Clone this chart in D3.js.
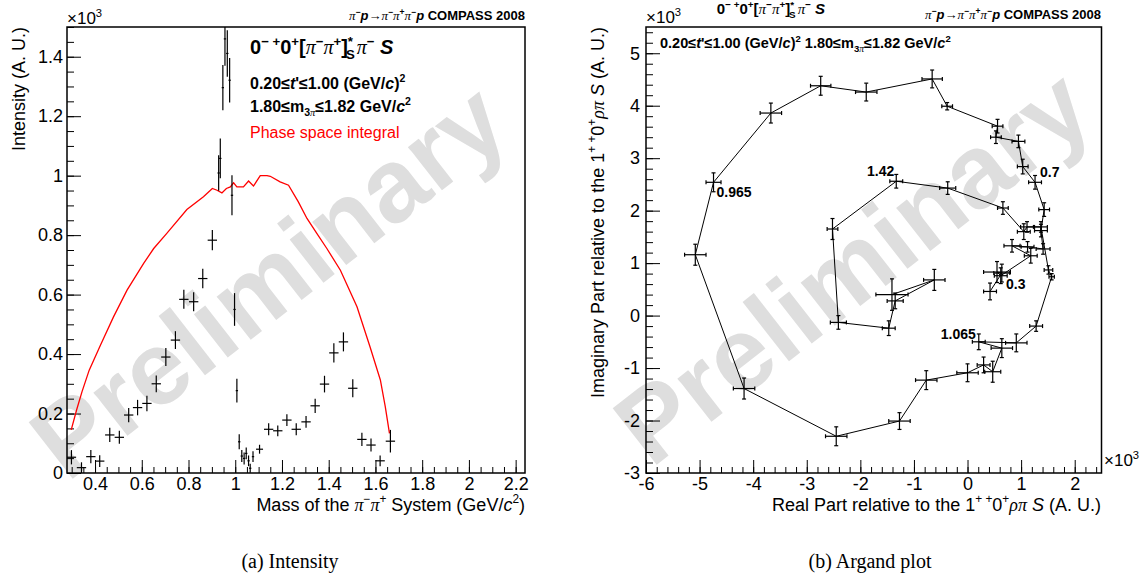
<!DOCTYPE html>
<html>
<head>
<meta charset="utf-8">
<script src="https://cdn.jsdelivr.net/npm/d3@7"></script>
<style>
  body { margin: 0; background: #fff; }
</style>
</head>
<body>
<div id="chart"></div>
<script>
// ---- data: intensity panel (mass in GeV/c^2, intensity in units of 10^3) ----
var massX = [0.299, 0.342, 0.382, 0.42, 0.463, 0.504, 0.544, 0.582, 0.622, 0.662, 0.703, 0.744, 0.78, 0.822, 0.861, 0.902,
  0.929, 0.936, 0.947, 0.956, 0.966, 0.976, 0.986, 0.997, 1.007, 1.017, 1.028, 1.038, 1.047, 1.057, 1.064, 1.076, 1.104,
  1.143, 1.182, 1.221, 1.261, 1.303, 1.342, 1.382, 1.422, 1.463, 1.503, 1.542, 1.581, 1.62, 1.664];
var massHalfWidth = [0.02, 0.02, 0.02, 0.02, 0.02, 0.02, 0.02, 0.02, 0.02, 0.02, 0.02, 0.02, 0.02, 0.02, 0.02, 0.02,
  0.005, 0.005, 0.005, 0.005, 0.005, 0.005, 0.005, 0.005, 0.005, 0.005, 0.005, 0.005, 0.005, 0.005, 0.005, 0.005, 0.015,
  0.02, 0.02, 0.02, 0.02, 0.02, 0.02, 0.02, 0.02, 0.02, 0.02, 0.02, 0.02, 0.02, 0.02];
var intensity = [0.053, 0.018, 0.055, 0.04, 0.128, 0.12, 0.195, 0.22, 0.234, 0.30, 0.39, 0.447, 0.584, 0.576, 0.654, 0.783,
  1.009, 1.058, 1.296, 1.46, 1.411, 1.321, 0.934, 0.55, 0.277, 0.105, 0.057, 0.049, 0.066, 0.041, 0.016, 0.055, 0.08,
  0.147, 0.142, 0.178, 0.147, 0.172, 0.226, 0.299, 0.404, 0.441, 0.285, 0.113, 0.094, 0.041, 0.107];
var intensityErr = [0.024, 0.018, 0.022, 0.02, 0.024, 0.022, 0.024, 0.026, 0.026, 0.028, 0.03, 0.03, 0.032, 0.032, 0.033, 0.034,
  0.06, 0.067, 0.076, 0.09, 0.078, 0.075, 0.067, 0.055, 0.04, 0.025, 0.02, 0.02, 0.02, 0.018, 0.015, 0.018, 0.015,
  0.02, 0.018, 0.02, 0.02, 0.02, 0.024, 0.028, 0.032, 0.032, 0.03, 0.022, 0.022, 0.018, 0.038];

var psMass = [0.298, 0.321, 0.344, 0.375, 0.423, 0.479, 0.537, 0.608, 0.651, 0.707, 0.793, 0.864, 0.902, 0.922, 0.943, 0.962,
  0.979, 0.993, 1.007, 1.035, 1.057, 1.078, 1.107, 1.136, 1.15, 1.192, 1.228, 1.27, 1.307, 1.349, 1.392, 1.45, 1.521,
  1.577, 1.621, 1.642, 1.66];
var psIntensity = [0.145, 0.212, 0.273, 0.346, 0.43, 0.525, 0.615, 0.705, 0.755, 0.806, 0.886, 0.929, 0.957, 0.951, 0.942, 0.957,
  0.962, 0.976, 0.962, 0.962, 0.982, 0.965, 1.0, 1.0, 0.998, 0.979, 0.968, 0.912, 0.856, 0.806, 0.755, 0.682, 0.559,
  0.424, 0.313, 0.223, 0.133];

var massTicks = [0.4, 0.6, 0.8, 1, 1.2, 1.4, 1.6, 1.8, 2, 2.2];
var intensityTicks = [0, 0.2, 0.4, 0.6, 0.8, 1, 1.2, 1.4];

// ---- data: Argand plot (units of 10^3) ----
var argandRe = [0.42, 0.64, 0.55, 0.62, 1.18, 0.83, 1.12, 1.41, 1.37, 1.43, 1.26, 1.03, 0.95, 0.53, 0.56, -0.38,
  -0.66, -1.89, -2.74, -3.67, -4.74, -5.08, -4.17, -2.45, -1.27, -0.77, 0.00, 0.30, 0.47, 0.64, 0.21, 0.91,
  1.28, 1.57, 1.51, 1.37, 1.11, 1.05, 0.66, -0.37, -1.33, -2.52, -2.41, -1.47, -1.35, -0.62, -1.41];
var argandIm = [0.46, 0.81, 0.83, 0.76, 1.14, 1.33, 1.31, 1.27, 1.62, 2.02, 2.54, 2.84, 3.32, 3.40, 3.61, 3.99,
  4.51, 4.26, 4.38, 3.86, 2.54, 1.16, -1.39, -2.30, -2.01, -1.23, -1.09, -0.94, -1.07, -0.62, -0.50, -0.52,
  -0.20, 0.74, 0.87, 1.69, 1.69, 1.60, 2.05, 2.43, 2.56, 1.65, -0.13, -0.24, 0.28, 0.68, 0.40];
var argandReErr = [0.12, 0.15, 0.25, 0.12, 0.12, 0.15, 0.12, 0.13, 0.12, 0.1, 0.12, 0.1, 0.12, 0.1, 0.1, 0.1,
  0.19, 0.2, 0.19, 0.2, 0.14, 0.2, 0.2, 0.2, 0.2, 0.2, 0.2, 0.12, 0.15, 0.2, 0.12, 0.2,
  0.12, 0.05, 0.08, 0.12, 0.12, 0.12, 0.1, 0.15, 0.12, 0.1, 0.15, 0.12, 0.15, 0.2, 0.3];
var argandImErr = [0.16, 0.17, 0.2, 0.15, 0.14, 0.12, 0.1, 0.1, 0.12, 0.13, 0.13, 0.14, 0.12, 0.12, 0.13, 0.07,
  0.17, 0.17, 0.18, 0.19, 0.18, 0.2, 0.2, 0.18, 0.16, 0.18, 0.17, 0.15, 0.2, 0.18, 0.15, 0.17,
  0.1, 0.06, 0.08, 0.1, 0.1, 0.15, 0.12, 0.12, 0.13, 0.2, 0.13, 0.14, 0.15, 0.2, 0.3];
var argandLabelText = ["0.3", "0.7", "0.965", "1.065", "1.42"];
var argandLabelIndex = [0, 10, 20, 30, 40];

var reTicks = [-6, -5, -4, -3, -2, -1, 0, 1, 2];
var imTicks = [-3, -2, -1, 0, 1, 2, 3, 4, 5];

// ---- layout ----
var SANS = "'Liberation Sans', Arial, Helvetica, sans-serif";
var SERIF = "'Liberation Serif', 'Times New Roman', serif";

var svg = d3.select("#chart").append("svg")
  .attr("width", 1148)
  .attr("height", 578)
  .style("background", "#fff");

var L = {left: 67, right: 525, top: 27, bottom: 473};
var R = {left: 646, right: 1101.5, top: 27, bottom: 473};

var xMass = d3.scaleLinear().domain([0.28, 2.24]).range([L.left, L.right]);
var yInt = d3.scaleLinear().domain([0, 1.5]).range([L.bottom, L.top]);
var xRe = d3.scaleLinear().domain([-6, 2.5]).range([R.left, R.right]);
var yIm = d3.scaleLinear().domain([-3, 5.5]).range([R.bottom, R.top]);

// text made of pieces: [string, kind, dx]; kind may hold sup / sub / it / pi
function richText(parent, x, y, parts, size, anchor, weight) {
  var t = parent.append("text")
    .attr("x", x).attr("y", y)
    .attr("font-family", SANS)
    .attr("font-size", size)
    .attr("font-weight", weight || "normal")
    .attr("text-anchor", anchor || "start");
  var shift = 0;
  parts.forEach(function(p) {
    var kind = p[1] || "";
    var fs = size, target = 0;
    if (kind.indexOf("sup") >= 0) { fs = size * 0.66; target = -size * 0.42; }
    if (kind.indexOf("sub") >= 0) { fs = size * 0.66; target = size * 0.25; }
    var ts = t.append("tspan").attr("font-size", fs).text(p[0]);
    if (target - shift !== 0) ts.attr("dy", target - shift);
    if (p[2]) ts.attr("dx", p[2]);
    if (kind.indexOf("it") >= 0) ts.attr("font-style", "italic");
    if (kind.indexOf("pi") >= 0) ts.attr("font-family", SERIF).attr("font-style", "italic").attr("font-weight", "normal");
    shift = target;
  });
  return t;
}

// watermark behind everything
function watermark(cx, cy) {
  svg.append("text")
    .attr("transform", `translate(${cx}, ${cy}) rotate(-38)`)
    .attr("text-anchor", "middle")
    .attr("dy", "0.35em")
    .attr("font-family", SANS)
    .attr("font-weight", "bold")
    .attr("font-size", 104)
    .attr("fill", "#dedede")
    .text("Preliminary");
}
watermark(268, 280);
watermark(852, 266);

// axes with inward ticks, ROOT style
function drawAxes(box, x, y, xMajor, xMinorStep, yMajor, yMinorStep, yPad) {
  var fmt = function(d) { return String(d); };
  var xMinor = d3.range(Math.ceil(x.domain()[0] / xMinorStep) * xMinorStep, x.domain()[1] + 1e-9, xMinorStep);
  var yMinor = d3.range(Math.ceil(y.domain()[0] / yMinorStep) * yMinorStep, y.domain()[1] + 1e-9, yMinorStep);

  svg.append("g")
    .attr("transform", `translate(0, ${box.bottom})`)
    .call(d3.axisBottom(x).tickValues(xMinor).tickSize(-6).tickSizeOuter(0).tickFormat(""))
    .call(g => g.select(".domain").remove());
  var gx = svg.append("g")
    .attr("transform", `translate(0, ${box.bottom})`)
    .call(d3.axisBottom(x).tickValues(xMajor).tickSize(-13).tickSizeOuter(0).tickPadding(4).tickFormat(fmt))
    .call(g => g.select(".domain").remove());
  gx.attr("font-size", 18).attr("font-family", SANS);

  svg.append("g")
    .attr("transform", `translate(${box.left}, 0)`)
    .call(d3.axisLeft(y).tickValues(yMinor).tickSize(-7).tickSizeOuter(0).tickFormat(""))
    .call(g => g.select(".domain").remove());
  var gy = svg.append("g")
    .attr("transform", `translate(${box.left}, 0)`)
    .call(d3.axisLeft(y).tickValues(yMajor).tickSize(-14).tickSizeOuter(0).tickPadding(yPad).tickFormat(fmt))
    .call(g => g.select(".domain").remove());
  gy.attr("font-size", 18).attr("font-family", SANS);

  svg.selectAll(".tick line").attr("stroke", "#000");
  svg.selectAll(".tick text").attr("fill", "#000");

  svg.append("rect")
    .attr("x", box.left).attr("y", box.top)
    .attr("width", box.right - box.left).attr("height", box.bottom - box.top)
    .attr("fill", "none").attr("stroke", "#000").attr("stroke-width", 1.5);
}

drawAxes(L, xMass, yInt, massTicks, 0.05, intensityTicks, 0.05, 4);
drawAxes(R, xRe, yIm, reTicks, 0.2, imTicks, 0.2, 6);

// ---------- left panel: intensity ----------
svg.append("clipPath").attr("id", "clipL")
  .append("rect").attr("x", L.left).attr("y", L.top)
  .attr("width", L.right - L.left).attr("height", L.bottom - L.top);

var gL = svg.append("g").attr("clip-path", "url(#clipL)");

var psLine = d3.line()
  .x((d, i) => xMass(psMass[i]))
  .y(d => yInt(d));
gL.append("path")
  .datum(psIntensity)
  .attr("d", psLine)
  .attr("fill", "none")
  .attr("stroke", "#ff0000")
  .attr("stroke-width", 1.3);

var pts = gL.selectAll("g.pt").data(intensity).enter().append("g").attr("class", "pt");
pts.append("line")
  .attr("x1", (d, i) => xMass(massX[i] - massHalfWidth[i]))
  .attr("x2", (d, i) => xMass(massX[i] + massHalfWidth[i]))
  .attr("y1", d => yInt(d))
  .attr("y2", d => yInt(d))
  .attr("stroke", "#000").attr("stroke-width", 1.2);
pts.append("line")
  .attr("x1", (d, i) => xMass(massX[i]))
  .attr("x2", (d, i) => xMass(massX[i]))
  .attr("y1", (d, i) => yInt(d - intensityErr[i]))
  .attr("y2", (d, i) => yInt(d + intensityErr[i]))
  .attr("stroke", "#000").attr("stroke-width", 1.2);

// left panel texts
richText(svg, 67, 24, [["×10"], ["3", "sup"]], 17);
richText(svg, 525, 20, [["π", "pi"], ["−", "sup"], ["p", "it"], ["→"], ["π", "pi"], ["−", "sup"], ["π", "pi"], ["+", "sup"],
  ["π", "pi"], ["−", "sup"], ["p", "it"], [" COMPASS 2008"]], 13, "end", "bold");
richText(svg, 250, 54, [["0"], ["− +", "sup"], ["0"], ["+", "sup"], ["["], ["π", "pi"], ["−", "sup"], ["π", "pi"], ["+", "sup"],
  ["]"], ["*", "sup"], ["S", "sub", -7], ["π", "pi", 2], ["−", "sup"], [" "], ["S", "it"]], 20, "start", "bold");
richText(svg, 250, 89, [["0.20≤"], ["t", "it"], ["'≤1.00 (GeV/"], ["c", "it"], [")"], ["2", "sup"]], 16, "start", "bold");
richText(svg, 250, 112, [["1.80≤m"], ["3", "sub"], ["π", "sub pi"], ["≤1.82 GeV/"], ["c", "it"], ["2", "sup"]], 16, "start", "bold");
svg.append("text")
  .attr("x", 250).attr("y", 138)
  .attr("font-family", SANS).attr("font-size", 16)
  .attr("fill", "#ff0000")
  .text("Phase space integral");

svg.append("text")
  .attr("transform", "translate(25, 27) rotate(-90)")
  .attr("text-anchor", "end")
  .attr("font-family", SANS).attr("font-size", 18)
  .text("Intensity (A. U.)");
richText(svg, 525, 511, [["Mass of the "], ["π", "pi"], ["−", "sup"], ["π", "pi"], ["+", "sup"], [" System (GeV/"], ["c", "it"],
  ["2", "sup"], [")"]], 18, "end");

// ---------- right panel: Argand plot ----------
var gR = svg.append("g");
var argandLine = d3.line()
  .x((d, i) => xRe(argandRe[i]))
  .y(d => yIm(d));
gR.append("path")
  .datum(argandIm)
  .attr("d", argandLine)
  .attr("fill", "none")
  .attr("stroke", "#000")
  .attr("stroke-width", 1);

var apts = gR.selectAll("g.apt").data(argandIm).enter().append("g").attr("class", "apt");
apts.each(function(d, i) {
  var g = d3.select(this);
  var cx = xRe(argandRe[i]), cy = yIm(d);
  var x0 = xRe(argandRe[i] - argandReErr[i]), x1 = xRe(argandRe[i] + argandReErr[i]);
  var y0 = yIm(d - argandImErr[i]), y1 = yIm(d + argandImErr[i]);
  g.append("line").attr("x1", x0).attr("x2", x1).attr("y1", cy).attr("y2", cy);
  g.append("line").attr("x1", cx).attr("x2", cx).attr("y1", y0).attr("y2", y1);
  g.append("line").attr("x1", x0).attr("x2", x0).attr("y1", cy - 2).attr("y2", cy + 2);
  g.append("line").attr("x1", x1).attr("x2", x1).attr("y1", cy - 2).attr("y2", cy + 2);
  g.append("line").attr("x1", cx - 2).attr("x2", cx + 2).attr("y1", y0).attr("y2", y0);
  g.append("line").attr("x1", cx - 2).attr("x2", cx + 2).attr("y1", y1).attr("y2", y1);
});
apts.selectAll("line").attr("stroke", "#000").attr("stroke-width", 1.2);

// mass labels next to chosen points
var labelOffsets = [[16, -2, "start"], [5, -5, "start"], [3, 15, "start"], [-3, -3, "end"], [-2, -5, "end"]];
argandLabelText.forEach(function(txt, k) {
  var i = argandLabelIndex[k];
  svg.append("text")
    .attr("x", xRe(argandRe[i]) + labelOffsets[k][0])
    .attr("y", yIm(argandIm[i]) + labelOffsets[k][1])
    .attr("text-anchor", labelOffsets[k][2])
    .attr("font-family", SANS).attr("font-size", 14).attr("font-weight", "bold")
    .text(txt);
});

richText(svg, 646, 23, [["×10"], ["3", "sup"]], 17);
richText(svg, 1104, 466, [["×10"], ["3", "sup"]], 17);
richText(svg, 1101, 19, [["π", "pi"], ["−", "sup"], ["p", "it"], ["→"], ["π", "pi"], ["−", "sup"], ["π", "pi"], ["+", "sup"],
  ["π", "pi"], ["−", "sup"], ["p", "it"], [" COMPASS 2008"]], 13, "end", "bold");
richText(svg, 771, 14, [["0"], ["− +", "sup"], ["0"], ["+", "sup"], ["["], ["π", "pi"], ["−", "sup"], ["π", "pi"], ["+", "sup"],
  ["]"], ["*", "sup"], ["S", "sub", -5], ["π", "pi", 2], ["−", "sup"], [" "], ["S", "it"]], 15, "middle", "bold");
richText(svg, 660, 48, [["0.20≤"], ["t", "it"], ["'≤1.00 (GeV/"], ["c", "it"], [")"], ["2", "sup"], ["    1.80≤m"], ["3", "sub"],
  ["π", "sub pi"], ["≤1.82 GeV/"], ["c", "it"], ["2", "sup"]], 14.5, "start", "bold");

richText(svg, 0, 0, [["Imaginary Part relative to the 1"], ["+ +", "sup"], ["0"], ["+", "sup"], ["ρπ", "pi"], [" "], ["S", "it"],
  [" (A. U.)"]], 18, "end")
  .attr("transform", "translate(604, 27) rotate(-90)");
richText(svg, 1101, 511, [["Real Part relative to the 1"], ["+ +", "sup"], ["0"], ["+", "sup"], ["ρπ", "pi"], [" "], ["S", "it"],
  [" (A. U.)"]], 18, "end");

// captions
svg.append("text")
  .attr("x", 290).attr("y", 568)
  .attr("text-anchor", "middle")
  .attr("font-family", SERIF).attr("font-size", 20)
  .text("(a) Intensity");
svg.append("text")
  .attr("x", 870).attr("y", 568)
  .attr("text-anchor", "middle")
  .attr("font-family", SERIF).attr("font-size", 20)
  .text("(b) Argand plot");
</script>
</body>
</html>
